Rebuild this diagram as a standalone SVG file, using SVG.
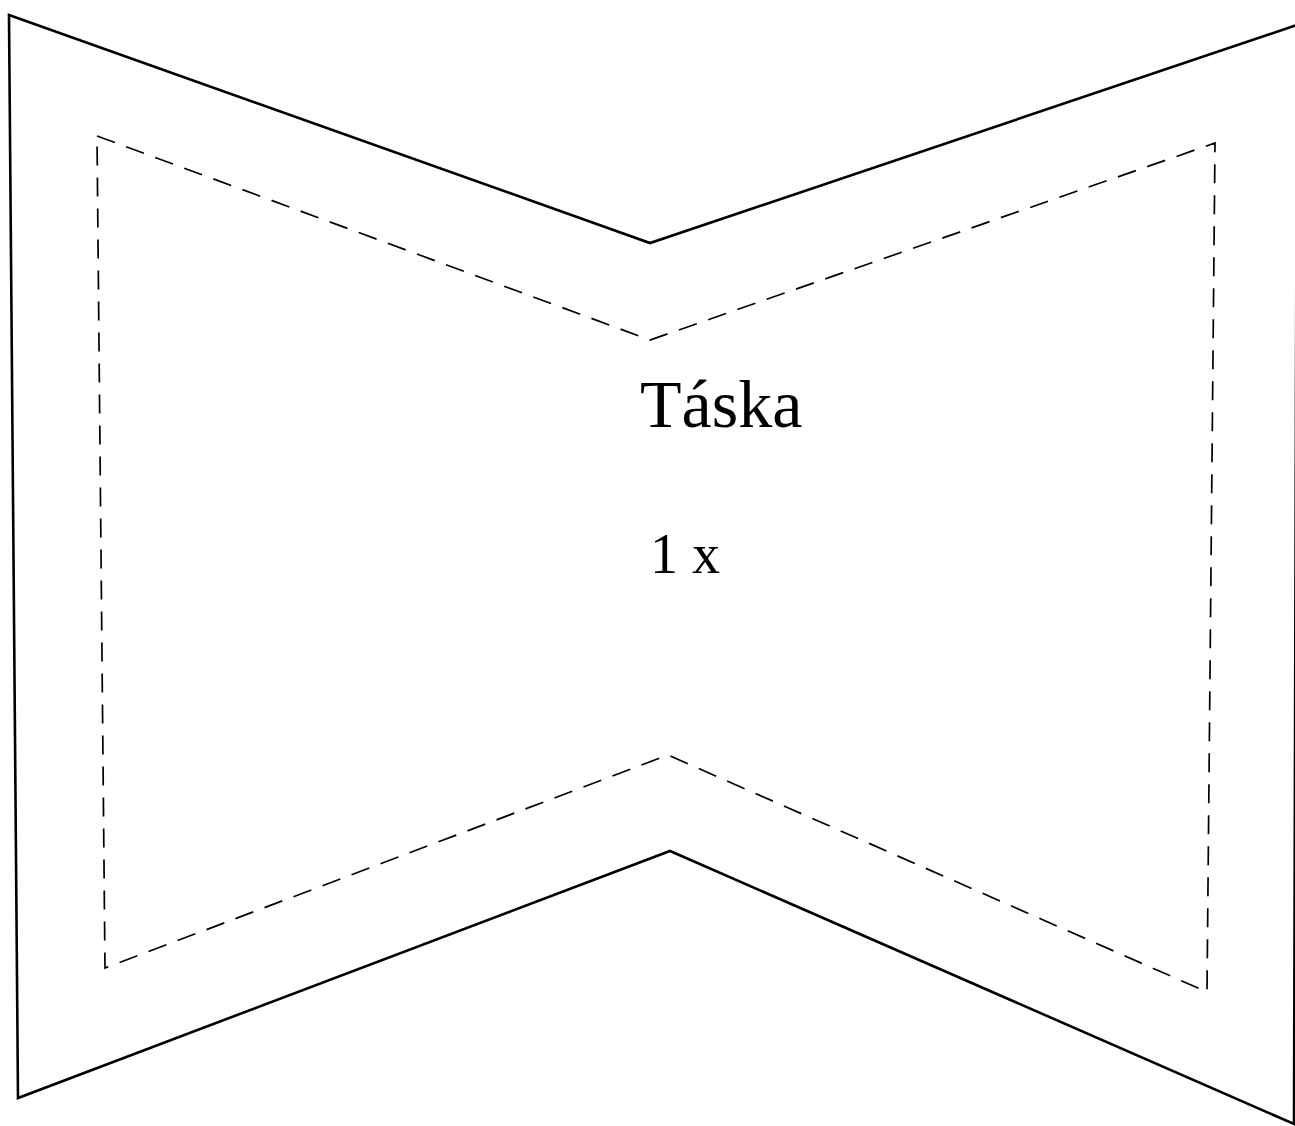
<svg xmlns="http://www.w3.org/2000/svg" width="1295" height="1126" viewBox="0 0 1295 1126">
<style>
.outer{fill:none;stroke:#000;stroke-width:2.6;stroke-linejoin:miter}
.seam{fill:none;stroke:#000;stroke-width:1.7;stroke-dasharray:19 12}
.t{font-family:"Liberation Serif","Times New Roman",serif;fill:#000}
</style>
<rect width="1295" height="1126" fill="#fff"/>
<g id="piece">
<polygon class="outer" points="9,15 650,243 1297,25 1294,1124 670,851 18,1098"/>
<polygon class="seam" points="97,136 650,340 1215,143 1207,992 668,755 105,968"/>
</g>
<g id="labels">
<text class="t" x="640" y="427" font-size="68">Táska</text>
<text class="t" x="650" y="573" font-size="56">1 x</text>
</g>
</svg>
